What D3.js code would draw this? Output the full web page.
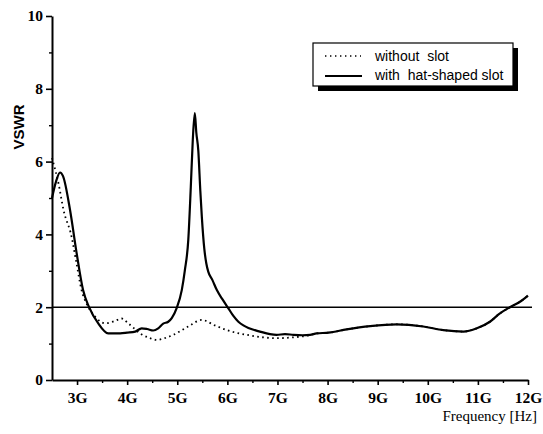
<!DOCTYPE html>
<html><head><meta charset="utf-8">
<script src="https://cdn.jsdelivr.net/npm/d3@7"></script>
<style>
html,body{margin:0;padding:0;background:#fff;}
svg{display:block;}
</style></head>
<body><svg id="c" width="543" height="434"></svg>
<script>
const freqSolid = [2.5,2.58,2.66,2.72,2.86,2.99,3.12,3.24,3.42,3.62,3.86,4.0,4.16,4.29,4.4,4.52,4.62,4.72,4.82,4.89,4.99,5.09,5.15,5.22,5.27,5.31,5.35,5.38,5.42,5.46,5.49,5.54,5.58,5.62,5.7,5.79,5.9,6.02,6.12,6.22,6.32,6.42,6.55,6.65,6.85,6.98,7.15,7.32,7.5,7.65,7.78,8.02,8.38,8.85,9.38,9.91,10.31,10.71,10.98,11.24,11.44,11.64,11.84,12.0];
const vswrSolid = [5.0,5.45,5.7,5.6,4.67,3.5,2.47,2.0,1.56,1.28,1.28,1.3,1.33,1.42,1.4,1.36,1.42,1.55,1.6,1.7,1.98,2.47,3.0,3.85,5.3,6.6,7.33,6.8,6.3,5.2,4.49,3.6,3.2,2.97,2.75,2.47,2.22,1.97,1.76,1.6,1.5,1.43,1.37,1.33,1.26,1.24,1.26,1.24,1.23,1.24,1.28,1.3,1.39,1.48,1.53,1.47,1.37,1.33,1.42,1.6,1.83,2.0,2.15,2.32];
const freqDotted = [2.5,2.52,2.63,2.73,2.89,2.99,3.09,3.19,3.36,3.56,3.75,3.89,4.02,4.26,4.45,4.59,4.75,4.92,5.22,5.49,5.75,5.99,6.39,6.98,7.3,7.6,7.78,8.02,8.38,8.85,9.38,9.91,10.31,10.71,10.98,11.24,11.44,11.64,11.84,12.0];
const vswrDotted = [6.1,6.0,5.4,4.67,3.94,3.2,2.47,2.1,1.74,1.56,1.62,1.69,1.56,1.28,1.15,1.1,1.15,1.24,1.47,1.65,1.5,1.37,1.24,1.15,1.17,1.22,1.28,1.3,1.39,1.48,1.53,1.47,1.37,1.33,1.42,1.6,1.83,2.0,2.15,2.32];
const xMajorTicks = [3,4,5,6,7,8,9,10,11,12];
const xTickLabels = ["3G","4G","5G","6G","7G","8G","9G","10G","11G","12G"];
const xMinorTicks = [3.5,4.5,5.5,6.5,7.5,8.5,9.5,10.5,11.5];
const yMajorTicks = [0,2,4,6,8,10];
const yMinorTicks = [1,3,5,7,9];
const refLevel = 2;
const legendLabels = ["without  slot","with  hat-shaped slot"];
const xLabel = "Frequency [Hz]";
const yLabel = "VSWR";

const svg = d3.select("#c");
const x = d3.scaleLinear().domain([2.5,12]).range([52,528]);
const y = d3.scaleLinear().domain([0,10]).range([380,16]);
const tickFont = "'Liberation Serif', serif";

// y axis
const yAxis = svg.append("g").attr("transform","translate(52,0)")
  .call(d3.axisLeft(y).tickValues(yMajorTicks).tickSize(6).tickSizeOuter(0).tickPadding(3).tickFormat(d3.format("d")));
yAxis.select(".domain").attr("stroke-width",2);
yAxis.selectAll(".tick line").attr("stroke-width",1.6);
yAxis.selectAll("text").style("font-family",tickFont).style("font-weight","bold").style("font-size","15.5px").attr("fill","#000");
svg.append("g").attr("transform","translate(52,0)")
  .call(d3.axisLeft(y).tickValues(yMinorTicks).tickSize(3).tickFormat(""))
  .call(g=>g.select(".domain").remove())
  .selectAll(".tick line").attr("stroke-width",1.4);

// x axis
const xAxis = svg.append("g").attr("transform","translate(0,380)")
  .call(d3.axisBottom(x).tickValues(xMajorTicks).tickSize(5).tickSizeOuter(0).tickPadding(7).tickFormat((d,i)=>xTickLabels[i]));
xAxis.select(".domain").attr("stroke-width",2);
xAxis.selectAll(".tick line").attr("stroke-width",1.6);
xAxis.selectAll("text").style("font-family",tickFont).style("font-weight","bold").style("font-size","15.5px").attr("fill","#000");
svg.append("g").attr("transform","translate(0,380)")
  .call(d3.axisBottom(x).tickValues(xMinorTicks).tickSize(3).tickFormat(""))
  .call(g=>g.select(".domain").remove())
  .selectAll(".tick line").attr("stroke-width",1.4);

// reference line
svg.append("line").attr("x1",x(2.5)).attr("x2",x(12)+4).attr("y1",y(refLevel)).attr("y2",y(refLevel))
  .attr("stroke","#000").attr("stroke-width",1.5);

const line = d3.line().x(d=>x(d[0])).y(d=>y(d[1])).curve(d3.curveMonotoneX);
const dotted = freqDotted.map((f,i)=>[f,vswrDotted[i]]);
const solid = freqSolid.map((f,i)=>[f,vswrSolid[i]]);
svg.append("path").datum(dotted).attr("d",line).attr("fill","none").attr("stroke","#000")
  .attr("stroke-width",1.8).attr("stroke-dasharray","1.6,3.4");
svg.append("path").datum(solid).attr("d",line).attr("fill","none").attr("stroke","#000")
  .attr("stroke-width",2.2).attr("stroke-linejoin","round");

// labels
svg.append("text").attr("x",537).attr("y",421).attr("text-anchor","end")
  .style("font-family",tickFont).style("font-size","15px").text(xLabel);
svg.append("text").attr("transform","translate(24,127) rotate(-90)").attr("text-anchor","middle")
  .style("font-family","'Liberation Sans', sans-serif").style("font-weight","bold").style("font-size","15px").text(yLabel);

// legend
const lg = svg.append("g");
lg.append("rect").attr("x",318).attr("y",48).attr("width",200).attr("height",43).attr("fill","#000");
lg.append("rect").attr("x",313).attr("y",43).attr("width",200).attr("height",43).attr("fill","#fff").attr("stroke","#000").attr("stroke-width",1.2);
lg.append("line").attr("x1",325).attr("x2",361).attr("y1",56).attr("y2",56).attr("stroke","#000").attr("stroke-width",1.4).attr("stroke-dasharray","1.4,3.6");
lg.append("line").attr("x1",325).attr("x2",362).attr("y1",76).attr("y2",76).attr("stroke","#000").attr("stroke-width",2);
lg.selectAll("text.leg").data(legendLabels).join("text").attr("class","leg")
  .attr("x",375).attr("y",(d,i)=>61+i*19).attr("xml:space","preserve").style("white-space","pre")
  .style("font-family","'Liberation Sans', sans-serif").style("font-size","14px").text(d=>d);
</script></body></html>
